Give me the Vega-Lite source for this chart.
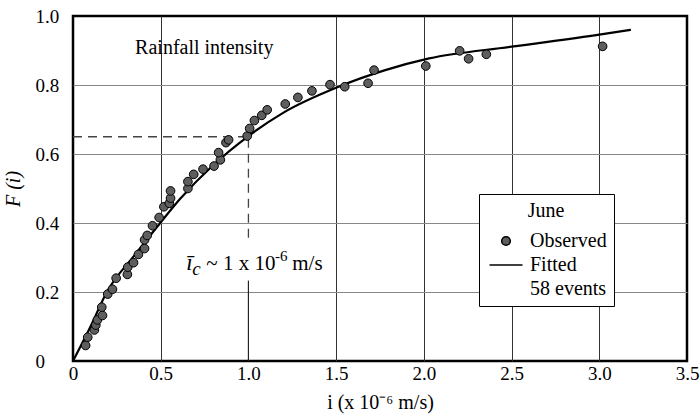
{
  "$schema": "https://vega.github.io/schema/vega-lite/v6.json",
  "width": 614,
  "height": 345,
  "autosize": {"type": "none"},
  "padding": {"left": 73, "top": 16, "right": 13, "bottom": 58},
  "config": {
    "font": "Liberation Serif",
    "view": {"stroke": "#000", "strokeWidth": 2.5},
    "axis": {
      "labelFont": "Liberation Serif",
      "titleFont": "Liberation Serif",
      "labelFontSize": 19,
      "titleFontSize": 20,
      "labelColor": "#000",
      "titleColor": "#000",
      "titleFontWeight": "normal",
      "domain": false,
      "ticks": false
    }
  },
  "datasets": {
    "observed": [
      {"i": 0.072, "F": 0.045, "series": "Observed"},
      {"i": 0.084, "F": 0.069, "series": "Observed"},
      {"i": 0.122, "F": 0.09, "series": "Observed"},
      {"i": 0.13, "F": 0.104, "series": "Observed"},
      {"i": 0.139, "F": 0.119, "series": "Observed"},
      {"i": 0.168, "F": 0.132, "series": "Observed"},
      {"i": 0.164, "F": 0.156, "series": "Observed"},
      {"i": 0.198, "F": 0.194, "series": "Observed"},
      {"i": 0.225, "F": 0.208, "series": "Observed"},
      {"i": 0.246, "F": 0.24, "series": "Observed"},
      {"i": 0.31, "F": 0.251, "series": "Observed"},
      {"i": 0.312, "F": 0.272, "series": "Observed"},
      {"i": 0.345, "F": 0.285, "series": "Observed"},
      {"i": 0.373, "F": 0.309, "series": "Observed"},
      {"i": 0.408, "F": 0.326, "series": "Observed"},
      {"i": 0.408, "F": 0.351, "series": "Observed"},
      {"i": 0.423, "F": 0.364, "series": "Observed"},
      {"i": 0.453, "F": 0.392, "series": "Observed"},
      {"i": 0.491, "F": 0.416, "series": "Observed"},
      {"i": 0.518, "F": 0.447, "series": "Observed"},
      {"i": 0.549, "F": 0.457, "series": "Observed"},
      {"i": 0.556, "F": 0.472, "series": "Observed"},
      {"i": 0.556, "F": 0.493, "series": "Observed"},
      {"i": 0.655, "F": 0.5, "series": "Observed"},
      {"i": 0.655, "F": 0.52, "series": "Observed"},
      {"i": 0.688, "F": 0.541, "series": "Observed"},
      {"i": 0.741, "F": 0.556, "series": "Observed"},
      {"i": 0.804, "F": 0.565, "series": "Observed"},
      {"i": 0.84, "F": 0.583, "series": "Observed"},
      {"i": 0.83, "F": 0.604, "series": "Observed"},
      {"i": 0.872, "F": 0.633, "series": "Observed"},
      {"i": 0.887, "F": 0.641, "series": "Observed"},
      {"i": 0.993, "F": 0.652, "series": "Observed"},
      {"i": 1.007, "F": 0.674, "series": "Observed"},
      {"i": 1.034, "F": 0.697, "series": "Observed"},
      {"i": 1.076, "F": 0.712, "series": "Observed"},
      {"i": 1.107, "F": 0.728, "series": "Observed"},
      {"i": 1.21, "F": 0.745, "series": "Observed"},
      {"i": 1.282, "F": 0.764, "series": "Observed"},
      {"i": 1.362, "F": 0.783, "series": "Observed"},
      {"i": 1.465, "F": 0.801, "series": "Observed"},
      {"i": 1.549, "F": 0.795, "series": "Observed"},
      {"i": 1.682, "F": 0.805, "series": "Observed"},
      {"i": 1.716, "F": 0.843, "series": "Observed"},
      {"i": 2.011, "F": 0.855, "series": "Observed"},
      {"i": 2.204, "F": 0.899, "series": "Observed"},
      {"i": 2.255, "F": 0.876, "series": "Observed"},
      {"i": 2.356, "F": 0.889, "series": "Observed"},
      {"i": 3.019, "F": 0.912, "series": "Observed"}
    ],
    "fitted": [
      {"i": 0, "F": 0},
      {"i": 0.1, "F": 0.1},
      {"i": 0.193, "F": 0.2},
      {"i": 0.35, "F": 0.306},
      {"i": 0.497, "F": 0.4},
      {"i": 0.611, "F": 0.47},
      {"i": 0.8, "F": 0.568},
      {"i": 1.0, "F": 0.652},
      {"i": 1.2, "F": 0.72},
      {"i": 1.5, "F": 0.792},
      {"i": 1.78, "F": 0.843},
      {"i": 2.03, "F": 0.877},
      {"i": 2.5, "F": 0.911},
      {"i": 3.0, "F": 0.946},
      {"i": 3.18, "F": 0.96}
    ],
    "dashedGuides": [
      {"i": 0, "i2": 1.0, "F": 0.65, "F2": 0.65},
      {"i": 1.0, "i2": 1.0, "F": 0.357, "F2": 0.65}
    ],
    "solidGuides": [
      {"i": 1.0, "i2": 1.0, "F": 0, "F2": 0.233}
    ]
  },
  "layer": [
    {
      "data": {"name": "solidGuides"},
      "mark": {"type": "rule", "color": "#222", "strokeWidth": 1.2},
      "encoding": {
        "x": {"field": "i", "type": "quantitative"},
        "x2": {"field": "i2"},
        "y": {"field": "F", "type": "quantitative"},
        "y2": {"field": "F2"}
      }
    },
    {
      "data": {"name": "dashedGuides"},
      "mark": {"type": "rule", "color": "#444", "strokeWidth": 1.3, "strokeDash": [9, 6]},
      "encoding": {
        "x": {"field": "i", "type": "quantitative"},
        "x2": {"field": "i2"},
        "y": {"field": "F", "type": "quantitative"},
        "y2": {"field": "F2"}
      }
    },
    {
      "data": {"name": "fitted"},
      "mark": {"type": "line", "color": "#000", "strokeWidth": 2.2, "interpolate": "monotone"},
      "encoding": {
        "x": {"field": "i", "type": "quantitative"},
        "y": {"field": "F", "type": "quantitative"}
      }
    },
    {
      "data": {"name": "observed"},
      "mark": {"type": "point", "filled": true, "stroke": "#000", "strokeWidth": 1, "opacity": 1},
      "encoding": {
        "x": {
          "field": "i",
          "type": "quantitative",
          "scale": {"domain": [0, 3.5], "nice": false, "zero": false},
          "axis": {
            "title": "i (x 10⁻⁶ m/s)",
            "values": [0, 0.5, 1, 1.5, 2, 2.5, 3, 3.5],
            "labelExpr": "datum.value == 0 ? '0' : format(datum.value, '.1f')",
            "labelFlush": false,
            "labelPadding": 3,
            "labelDx": -3,
            "titlePadding": 9,
            "grid": true,
            "gridColor": "#333",
            "gridWidth": 1,
            "gridOpacity": {"condition": {"test": "datum.value == 0 || datum.value == 1 || datum.value == 3.5", "value": 0}, "value": 1}
          }
        },
        "y": {
          "field": "F",
          "type": "quantitative",
          "scale": {"domain": [0, 1], "nice": false, "zero": false},
          "axis": {
            "title": "F (i)",
            "titleFontStyle": "italic",
            "values": [0, 0.2, 0.4, 0.6, 0.8, 1.0],
            "labelExpr": "datum.value == 0 ? '0' : format(datum.value, '.1f')",
            "labelFlush": false,
            "labelAlign": "left",
            "labelPadding": 38,
            "titlePadding": 12,
            "grid": true,
            "gridColor": "#888",
            "gridWidth": 1.2,
            "gridOpacity": {"condition": {"test": "datum.value == 0 || datum.value == 1", "value": 0}, "value": 1}
          }
        },
        "color": {
          "field": "series",
          "type": "ordinal",
          "scale": {"domain": ["Observed", "Fitted", "58 events"], "range": ["#5e5e5e", "#000000", "#ffffff"]},
          "legend": {
            "title": "June",
            "orient": "none",
            "legendX": 406,
            "legendY": 178,
            "titleAnchor": "middle",
            "titleFont": "Liberation Serif",
            "titleFontSize": 20,
            "titleFontWeight": "normal",
            "titleColor": "#000",
            "titlePadding": 10,
            "labelFont": "Liberation Serif",
            "labelFontSize": 20,
            "labelColor": "#000",
            "labelOffset": 14,
            "symbolOffset": 10,
            "rowPadding": 4,
            "padding": 7,
            "strokeColor": "#000",
            "fillColor": "#fff",
            "symbolStrokeColor": "#000",
            "symbolStrokeWidth": 1.5,
            "encode": {
              "legend": {"update": {"strokeWidth": {"value": 2.5}}}
            }
          }
        },
        "shape": {
          "field": "series",
          "type": "ordinal",
          "scale": {"domain": ["Observed", "Fitted", "58 events"], "range": ["circle", "M-3,0L3,0", "circle"]}
        },
        "size": {
          "field": "series",
          "type": "ordinal",
          "scale": {"type": "ordinal", "domain": ["Observed", "Fitted", "58 events"], "range": [75, 121, 0]}
        }
      }
    },
    {
      "data": {"values": [{"i": 0.354, "F": 0.907, "label": "Rainfall intensity"}]},
      "mark": {"type": "text", "align": "left", "baseline": "middle", "fontSize": 20, "font": "Liberation Serif", "color": "#000"},
      "encoding": {
        "x": {"field": "i", "type": "quantitative"},
        "y": {"field": "F", "type": "quantitative"},
        "text": {"field": "label"}
      }
    },
    {
      "data": {"values": [{"i": 0.645, "F": 0.264, "label": "ī"}]},
      "mark": {"type": "text", "align": "left", "baseline": "alphabetic", "fontSize": 23, "fontStyle": "italic", "font": "Liberation Serif", "color": "#000"},
      "encoding": {
        "x": {"field": "i", "type": "quantitative"},
        "y": {"field": "F", "type": "quantitative"},
        "text": {"field": "label"}
      }
    },
    {
      "data": {"values": [{"i": 0.68, "F": 0.25, "label": "c"}]},
      "mark": {"type": "text", "align": "left", "baseline": "alphabetic", "fontSize": 19, "fontStyle": "italic", "font": "Liberation Serif", "color": "#000"},
      "encoding": {
        "x": {"field": "i", "type": "quantitative"},
        "y": {"field": "F", "type": "quantitative"},
        "text": {"field": "label"}
      }
    },
    {
      "data": {"values": [{"i": 0.76, "F": 0.264, "label": "~ 1 x 10"}]},
      "mark": {"type": "text", "align": "left", "baseline": "alphabetic", "fontSize": 21, "font": "Liberation Serif", "color": "#000"},
      "encoding": {
        "x": {"field": "i", "type": "quantitative"},
        "y": {"field": "F", "type": "quantitative"},
        "text": {"field": "label"}
      }
    },
    {
      "data": {"values": [{"i": 1.152, "F": 0.29, "label": "-6"}]},
      "mark": {"type": "text", "align": "left", "baseline": "alphabetic", "fontSize": 15, "font": "Liberation Serif", "color": "#000"},
      "encoding": {
        "x": {"field": "i", "type": "quantitative"},
        "y": {"field": "F", "type": "quantitative"},
        "text": {"field": "label"}
      }
    },
    {
      "data": {"values": [{"i": 1.25, "F": 0.264, "label": "m/s"}]},
      "mark": {"type": "text", "align": "left", "baseline": "alphabetic", "fontSize": 21, "font": "Liberation Serif", "color": "#000"},
      "encoding": {
        "x": {"field": "i", "type": "quantitative"},
        "y": {"field": "F", "type": "quantitative"},
        "text": {"field": "label"}
      }
    }
  ]
}
